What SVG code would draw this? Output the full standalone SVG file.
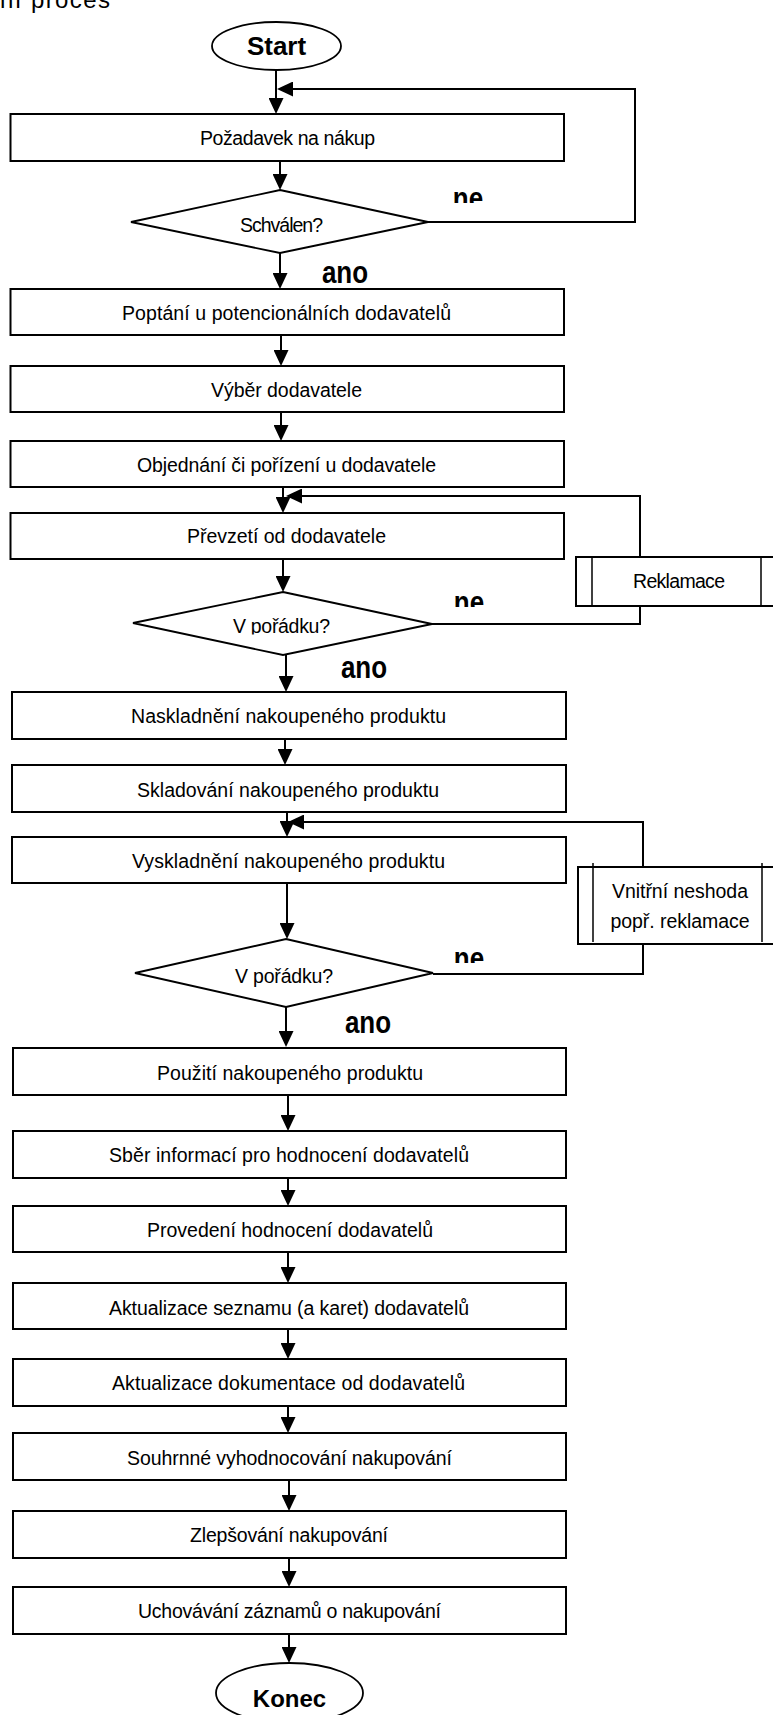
<svg xmlns="http://www.w3.org/2000/svg" width="773" height="1715" viewBox="0 0 773 1715">
<style>
  .box { fill: #fff; stroke: #000; stroke-width: 2; }
  .dia { fill: #fff; stroke: #000; stroke-width: 1.8; }
  .term { fill: #fff; stroke: #000; stroke-width: 1.8; }
  .inner { fill: none; stroke: #000; stroke-width: 1.5; }
  .lbl { font-family: "Liberation Sans", Arial, sans-serif; font-size: 19.5px; fill: #000; text-anchor: middle; }
  .bold { font-family: "Liberation Sans", Arial, sans-serif; font-weight: bold; fill: #000; text-anchor: middle; }
  .yn { font-family: "Liberation Sans", Arial, sans-serif; font-weight: bold; font-size: 26px; fill: #000; text-anchor: middle; }
  .conn path { fill: none; stroke: #000; stroke-width: 2; }
  .conn path.arr { marker-end: url(#ah); }
</style>
<defs>
  <marker id="ah" markerWidth="16" markerHeight="15" refX="8" refY="7.5" orient="auto" markerUnits="userSpaceOnUse">
    <path d="M0,0 L16,7.5 L0,15 z" fill="#000"/>
  </marker>
  <clipPath id="cNe1"><rect x="430" y="175" width="80" height="28"/></clipPath>
  <clipPath id="cNe2"><rect x="430" y="579" width="80" height="28"/></clipPath>
  <clipPath id="cNe3"><rect x="430" y="935" width="80" height="28"/></clipPath>
  <clipPath id="cD2"><rect x="200" y="600" width="170" height="34.5"/></clipPath>
</defs>
<rect x="0" y="0" width="773" height="1715" fill="#fff"/>

<text x="0" y="8" font-family="Liberation Sans, Arial, sans-serif" font-size="24" textLength="110">ní proces</text>

<g id="connectors" class="conn">
  <path class="arr" d="M276,70 V106"/>
  <path class="arr" d="M428,222 H635 V89 H285"/>
  <path class="arr" d="M280,161 V182"/>
  <path class="arr" d="M280,253 V281"/>
  <path class="arr" d="M281,335 V358"/>
  <path class="arr" d="M281,412 V433"/>
  <path class="arr" d="M283,487 V505"/>
  <path d="M432,624 H640 V606"/>
  <path class="arr" d="M640,557 V496 H294"/>
  <path class="arr" d="M283,559 V584"/>
  <path class="arr" d="M286,655 V684"/>
  <path class="arr" d="M285,739 V757"/>
  <path class="arr" d="M287,812 V829"/>
  <path d="M433,974 H643 V944"/>
  <path class="arr" d="M643,867 V822 H296"/>
  <path class="arr" d="M287,883 V931"/>
  <path class="arr" d="M286,1007 V1039"/>
  <path class="arr" d="M288,1095 V1123"/>
  <path class="arr" d="M288,1178 V1198"/>
  <path class="arr" d="M288,1252 V1275"/>
  <path class="arr" d="M288,1329 V1351"/>
  <path class="arr" d="M288,1406 V1425"/>
  <path class="arr" d="M289,1480 V1503"/>
  <path class="arr" d="M289,1558 V1579"/>
  <path class="arr" d="M289,1634 V1655"/>
</g>

<g id="start">
  <ellipse class="term" cx="276.5" cy="46" rx="64.5" ry="24"/>
  <text class="bold" x="276.5" y="55" font-size="26">Start</text>
</g>

<g id="n-pozadavek">
  <rect class="box" x="10.5" y="114" width="553.5" height="47"/>
  <text class="lbl" x="287.5" y="145" textLength="175">Požadavek na nákup</text>
</g>

<g id="d-schvalen">
  <polygon class="dia" points="280,190 428,222 280,253 131,222"/>
  <text class="lbl" x="281.5" y="232" textLength="83">Schválen?</text>
  <g clip-path="url(#cNe1)"><text class="yn" transform="translate(468,209) scale(1,1.18)">ne</text></g>
  <text class="yn" transform="translate(345,283) scale(1,1.18)">ano</text>
</g>

<g id="n-poptani">
  <rect class="box" x="10.5" y="289" width="553.5" height="46"/>
  <text class="lbl" x="286.5" y="320" textLength="329">Poptání u potencionálních dodavatelů</text>
</g>

<g id="n-vyber">
  <rect class="box" x="10.5" y="366" width="553.5" height="46"/>
  <text class="lbl" x="286.5" y="397" textLength="151">Výběr dodavatele</text>
</g>

<g id="n-objednani">
  <rect class="box" x="10.5" y="441" width="553.5" height="46"/>
  <text class="lbl" x="286.5" y="472" textLength="299">Objednání či pořízení u dodavatele</text>
</g>

<g id="n-prevzeti">
  <rect class="box" x="10.5" y="513" width="553.5" height="46"/>
  <text class="lbl" x="286.5" y="543" textLength="199">Převzetí od dodavatele</text>
</g>

<g id="d-poradku1">
  <polygon class="dia" points="283,592 432,624 283,655 133,623"/>
  <g clip-path="url(#cD2)"><text class="lbl" x="281.5" y="633" textLength="97">V pořádku?</text></g>
  <g clip-path="url(#cNe2)"><text class="yn" transform="translate(469,613) scale(1,1.18)">ne</text></g>
  <text class="yn" transform="translate(364,678) scale(1,1.18)">ano</text>
</g>

<g id="n-reklamace">
  <rect class="box" x="576" y="557" width="200" height="49"/>
  <line class="inner" x1="592" y1="557" x2="592" y2="606"/>
  <line class="inner" x1="761" y1="557" x2="761" y2="606"/>
  <text class="lbl" x="679" y="588" textLength="92">Reklamace</text>
</g>

<g id="n-naskladneni">
  <rect class="box" x="12" y="692" width="554" height="47"/>
  <text class="lbl" x="288.5" y="723" textLength="315">Naskladnění nakoupeného produktu</text>
</g>

<g id="n-skladovani">
  <rect class="box" x="12" y="765" width="554" height="47"/>
  <text class="lbl" x="288" y="797" textLength="302">Skladování nakoupeného produktu</text>
</g>

<g id="n-vyskladneni">
  <rect class="box" x="12" y="837" width="554" height="46"/>
  <text class="lbl" x="288.5" y="868" textLength="313">Vyskladnění nakoupeného produktu</text>
</g>

<g id="n-neshoda">
  <rect class="box" x="578" y="867" width="198" height="77"/>
  <line class="inner" x1="593" y1="863" x2="593" y2="942"/>
  <line class="inner" x1="762" y1="863" x2="762" y2="942"/>
  <text class="lbl" x="680" y="898" textLength="136">Vnitřní neshoda</text>
  <text class="lbl" x="680" y="928" textLength="139">popř. reklamace</text>
</g>

<g id="d-poradku2">
  <polygon class="dia" points="286,939 433,973 286,1007 135,973"/>
  <text class="lbl" x="284" y="983" textLength="98">V pořádku?</text>
  <g clip-path="url(#cNe3)"><text class="yn" transform="translate(469,969) scale(1,1.18)">ne</text></g>
  <text class="yn" transform="translate(368,1033) scale(1,1.18)">ano</text>
</g>

<g id="n-pouziti">
  <rect class="box" x="13" y="1048" width="553" height="47"/>
  <text class="lbl" x="290" y="1080" textLength="266">Použití nakoupeného produktu</text>
</g>

<g id="n-sber">
  <rect class="box" x="13" y="1131" width="553" height="47"/>
  <text class="lbl" x="289" y="1162" textLength="360">Sběr informací pro hodnocení dodavatelů</text>
</g>

<g id="n-provedeni">
  <rect class="box" x="13" y="1206" width="553" height="46"/>
  <text class="lbl" x="290" y="1237" textLength="286">Provedení hodnocení dodavatelů</text>
</g>

<g id="n-aktualizace-seznamu">
  <rect class="box" x="13" y="1283" width="553" height="46"/>
  <text class="lbl" x="289" y="1315" textLength="360">Aktualizace seznamu (a karet) dodavatelů</text>
</g>

<g id="n-aktualizace-dokumentace">
  <rect class="box" x="13" y="1359" width="553" height="47"/>
  <text class="lbl" x="288.5" y="1390" textLength="353">Aktualizace dokumentace od dodavatelů</text>
</g>

<g id="n-souhrnne">
  <rect class="box" x="13" y="1433" width="553" height="47"/>
  <text class="lbl" x="289.5" y="1465" textLength="325">Souhrnné vyhodnocování nakupování</text>
</g>

<g id="n-zlepsovani">
  <rect class="box" x="13" y="1511" width="553" height="47"/>
  <text class="lbl" x="289" y="1542" textLength="198">Zlepšování nakupování</text>
</g>

<g id="n-uchovavani">
  <rect class="box" x="13" y="1587" width="553" height="47"/>
  <text class="lbl" x="289.5" y="1618" textLength="303">Uchovávání záznamů o nakupování</text>
</g>

<g id="konec">
  <ellipse class="term" cx="289.5" cy="1693" rx="73.5" ry="30"/>
  <text class="bold" x="289.5" y="1707" font-size="24">Konec</text>
</g>
</svg>
